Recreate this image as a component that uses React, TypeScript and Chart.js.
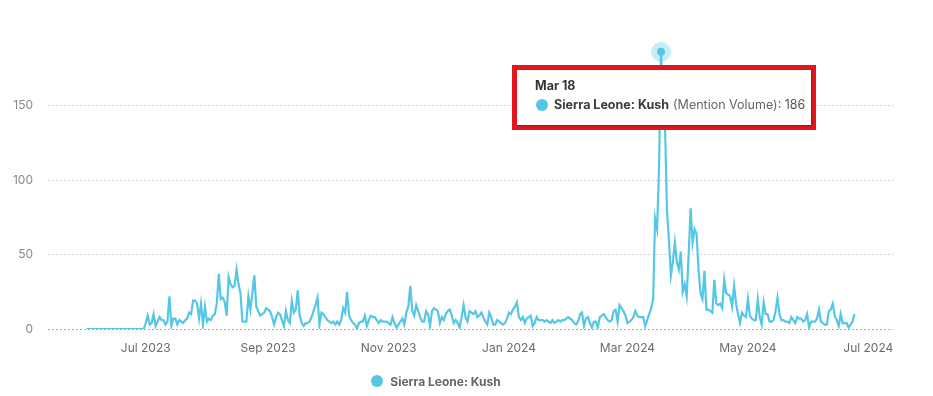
import React, { useEffect, useRef, useState } from 'react';
import { Chart, registerables } from 'chart.js';

Chart.register(...registerables);

const SERIES_NAME = 'Sierra Leone: Kush';
const METRIC_NAME = 'Mention Volume';
const LINE_COLOR = '#55c7e5';
const MONTH_NAMES = ['Jan', 'Feb', 'Mar', 'Apr', 'May', 'Jun', 'Jul', 'Aug', 'Sep', 'Oct', 'Nov', 'Dec'];

// daily mention volume, one array per month
const jun2023 = [0, 0, 0, 0, 0, 0, 0, 0, 0, 0, 0, 0, 0, 0, 0, 0, 0, 0, 0, 0, 0, 0, 0, 0, 0, 0, 0, 0, 0, 0];
const jul2023 = [4, 9, 3, 4, 10, 2, 5, 8, 6, 6, 3, 5, 22, 2, 7, 7, 3, 6, 5, 4, 6, 7, 11, 10, 19, 19, 17, 7, 17, 3, 15];
const aug2023 = [5, 7, 6, 9, 10, 17, 37, 20, 21, 18, 9, 35, 30, 28, 29, 40, 30, 24, 5, 5, 5, 22, 13, 24, 36, 15, 12, 9, 10, 11, 14];
const sep2023 = [13, 12, 8, 3, 8, 11, 10, 6, 2, 12, 6, 4, 19, 11, 13, 26, 9, 4, 2, 4, 4, 5, 8, 12, 16, 21, 3, 11, 10, 8];
const oct2023 = [6, 5, 4, 5, 3, 5, 3, 6, 14, 11, 25, 9, 6, 4, 3, 0, 4, 5, 5, 9, 2, 6, 9, 8, 8, 6, 4, 6, 5, 5, 5];
const nov2023 = [4, 3, 8, 4, 1, 3, 5, 7, 3, 11, 15, 29, 12, 9, 16, 12, 8, 5, 5, 12, 10, 2, 12, 14, 13, 12, 4, 8, 6, 10];
const dec2023 = [12, 13, 9, 4, 6, 4, 1, 8, 16, 8, 5, 12, 11, 10, 12, 8, 9, 11, 8, 5, 3, 11, 8, 3, 3, 6, 5, 4, 3, 4, 7];
const jan2024 = [11, 10, 13, 15, 18, 8, 6, 8, 4, 7, 8, 9, 2, 4, 8, 6, 6, 6, 5, 6, 5, 4, 6, 4, 5, 6, 5, 6, 6, 7, 8];
const feb2024 = [7, 6, 4, 3, 5, 10, 11, 2, 7, 8, 4, 1, 5, 5, 1, 8, 9, 10, 8, 6, 5, 6, 12, 13, 5, 16, 14, 12, 9];
const mar2024 = [4, 5, 6, 8, 12, 9, 8, 8, 8, 2, 6, 10, 14, 20, 74, 67, 108, 186, 145, 138, 80, 60, 36, 45, 58, 45, 40, 52, 25, 30, 22];
const apr2024 = [50, 81, 58, 67, 64, 40, 24, 20, 39, 13, 13, 12, 11, 33, 17, 16, 17, 14, 33, 24, 23, 22, 15, 29, 17, 10, 4, 11, 9, 8];
const may2024 = [20, 9, 7, 6, 6, 20, 8, 3, 18, 10, 10, 5, 5, 6, 12, 21, 10, 6, 6, 5, 5, 4, 8, 6, 4, 8, 7, 7, 5, 6, 10];
const jun2024 = [1, 5, 5, 5, 7, 13, 5, 4, 3, 3, 12, 13, 17, 9, 6, 2, 10, 4, 4, 4, 1, 3, 5, 10];

const MONTH_BLOCKS: [number, number, number[]][] = [
  [2023, 5, jun2023],
  [2023, 6, jul2023],
  [2023, 7, aug2023],
  [2023, 8, sep2023],
  [2023, 9, oct2023],
  [2023, 10, nov2023],
  [2023, 11, dec2023],
  [2024, 0, jan2024],
  [2024, 1, feb2024],
  [2024, 2, mar2024],
  [2024, 3, apr2024],
  [2024, 4, may2024],
  [2024, 5, jun2024],
];

// x-axis tick months (year, monthIndex)
const TICK_MONTHS: [number, number][] = [
  [2023, 6], [2023, 8], [2023, 10], [2024, 0], [2024, 2], [2024, 4], [2024, 6],
];
const Y_TICKS = [0, 50, 100, 150];

const DAY_MS = 86400000;
const ORIGIN = Date.UTC(2023, 6, 1);
const dayOffset = (y: number, m: number, d: number) => (Date.UTC(y, m, d) - ORIGIN) / DAY_MS;
const offsetToDate = (off: number) => new Date(ORIGIN + Math.round(off) * DAY_MS);

const X_MIN = -49.5;
const X_MAX = 378.5;
const Y_MAX = 200;

const FONT = 'Inter, "Noto Sans", sans-serif';

type Tip = { x: number; y: number; title: string; value: number } | null;

const haloPlugin = {
  id: 'halo',
  afterDatasetsDraw(chart: any) {
    const active = chart.getActiveElements();
    const ctx = chart.ctx;
    active.forEach((a: any) => {
      const el = a.element;
      ctx.save();
      ctx.beginPath();
      ctx.arc(el.x, el.y, 10, 0, Math.PI * 2);
      ctx.fillStyle = 'rgba(85,199,229,0.32)';
      ctx.fill();
      ctx.beginPath();
      ctx.arc(el.x, el.y, 4, 0, Math.PI * 2);
      ctx.fillStyle = LINE_COLOR;
      ctx.fill();
      ctx.restore();
    });
  },
};

export default function App() {
  const canvasRef = useRef<HTMLCanvasElement | null>(null);
  const [tip, setTip] = useState<Tip>(null);

  useEffect(() => {
    document.body.style.margin = '0';
    const points: { x: number; y: number }[] = [];
    MONTH_BLOCKS.forEach(([y, m, vals]) => {
      vals.forEach((v, i) => points.push({ x: dayOffset(y, m, i + 1), y: v }));
    });
    const tickValues = TICK_MONTHS.map(([y, m]) => dayOffset(y, m, 1));

    const chart = new Chart(canvasRef.current as HTMLCanvasElement, {
      type: 'line',
      data: {
        datasets: [
          {
            label: SERIES_NAME,
            data: points,
            borderColor: LINE_COLOR,
            backgroundColor: LINE_COLOR,
            borderWidth: 2.2,
            pointRadius: 0,
            pointHoverRadius: 0,
            tension: 0,
          },
        ],
      },
      options: {
        animation: false,
        responsive: true,
        maintainAspectRatio: false,
        events: [],
        layout: { padding: { top: 31, right: 40, left: 0, bottom: 32 } },
        scales: {
          x: {
            type: 'linear',
            min: X_MIN,
            max: X_MAX,
            grid: { display: false, drawTicks: false },
            border: { display: false },
            afterBuildTicks: (scale: any) => {
              scale.ticks = tickValues.map((v) => ({ value: v }));
            },
            afterFit: (scale: any) => {
              scale.height = 35;
            },
            ticks: {
              padding: 12,
              maxRotation: 0,
              autoSkip: false,
              color: '#6b6b6b',
              font: { family: FONT, size: 12 },
              callback: (v: any) => {
                const d = offsetToDate(Number(v));
                return `${MONTH_NAMES[d.getUTCMonth()]} ${d.getUTCFullYear()}`;
              },
            },
          },
          y: {
            min: 0,
            max: Y_MAX,
            afterBuildTicks: (scale: any) => {
              scale.ticks = Y_TICKS.map((v) => ({ value: v }));
            },
            afterFit: (scale: any) => {
              scale.width = 48;
            },
            grid: {
              drawTicks: false,
              color: (c: any) => (c.tick && c.tick.value === 0 ? '#a3aac4' : '#d2d2d2'),
              lineWidth: 1,
            },
            border: { display: false, dash: [2, 2] },
            ticks: {
              padding: 15,
              color: '#8a8a8a',
              font: { family: FONT, size: 12 },
            },
          },
        },
        plugins: {
          legend: { display: false },
          tooltip: { enabled: false },
        },
      },
      plugins: [haloPlugin],
    } as any);

    // highlight the maximum point
    let maxIdx = 0;
    points.forEach((p, i) => {
      if (p.y > points[maxIdx].y) maxIdx = i;
    });
    chart.setActiveElements([{ datasetIndex: 0, index: maxIdx }]);
    chart.update();
    const el: any = chart.getDatasetMeta(0).data[maxIdx];
    const d = offsetToDate(points[maxIdx].x);
    setTip({
      x: el.x,
      y: el.y,
      title: `${MONTH_NAMES[d.getUTCMonth()]} ${d.getUTCDate()}`,
      value: points[maxIdx].y,
    });

    return () => {
      chart.destroy();
    };
  }, []);

  return (
    <div style={{ position: 'relative', width: 933, height: 396, background: '#fff' }}>
      <canvas ref={canvasRef} />
      <div
        style={{
          position: 'absolute',
          left: 0,
          top: 372,
          width: 872,
          height: 18,
          display: 'flex',
          justifyContent: 'center',
          alignItems: 'center',
          fontFamily: FONT,
          fontSize: 12,
          fontWeight: 700,
          color: '#666',
        }}
      >
        <span
          style={{
            display: 'inline-block',
            width: 12,
            height: 12,
            borderRadius: '50%',
            background: LINE_COLOR,
            marginRight: 7,
          }}
        />
        <span>{SERIES_NAME}</span>
      </div>
      {tip && (
        <div
          style={{
            position: 'absolute',
            left: tip.x - 149,
            top: tip.y + 13,
            width: 304,
            height: 65,
            border: '5px solid #e3151d',
            boxSizing: 'border-box',
            pointerEvents: 'none',
          }}
        >
          <div
            style={{
              width: '100%',
              height: '100%',
              background: '#fff',
              boxShadow: '1px 1px 2px rgba(0,0,0,0.25)',
              boxSizing: 'border-box',
              padding: '8px 0 0 18px',
              fontFamily: FONT,
              fontSize: 12.5,
              color: '#333',
            }}
          >
            <div style={{ fontWeight: 700, lineHeight: '16px', color: '#333' }}>{tip.title}</div>
            <div style={{ display: 'flex', alignItems: 'center', marginTop: 3, lineHeight: '16px' }}>
              <span
                style={{
                  display: 'inline-block',
                  width: 12,
                  height: 12,
                  borderRadius: '50%',
                  background: LINE_COLOR,
                  marginLeft: 1,
                  marginRight: 6,
                }}
              />
              <span style={{ fontWeight: 700, color: '#3a3a3a' }}>{SERIES_NAME}</span>
              <span style={{ color: '#666', marginLeft: 4 }}>({METRIC_NAME})</span>
              <span style={{ color: '#555' }}>: {tip.value}</span>
            </div>
          </div>
        </div>
      )}
    </div>
  );
}
